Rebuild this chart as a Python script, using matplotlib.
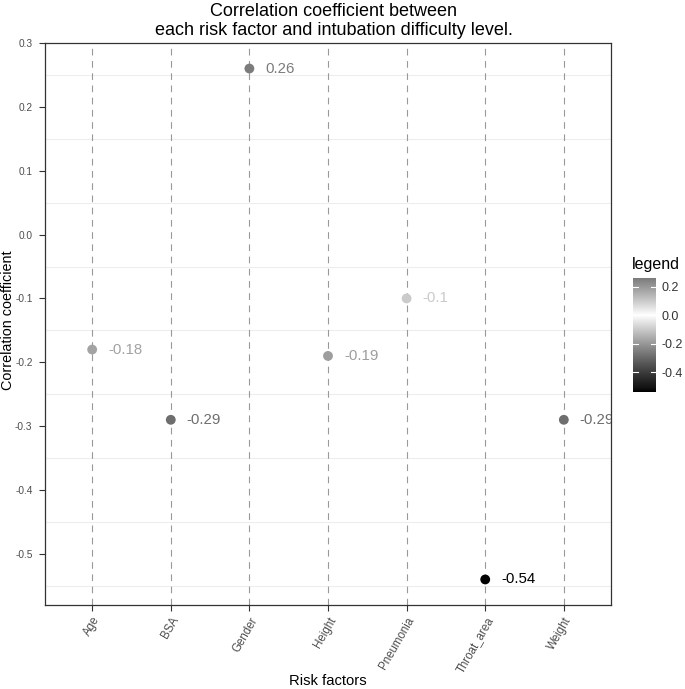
import matplotlib
matplotlib.use("Agg")
import matplotlib.pyplot as plt
import matplotlib.transforms as mtransforms
import numpy as np
from matplotlib.colors import ListedColormap, Normalize

plt.rcParams['font.family'] = ['Liberation Sans', 'DejaVu Sans']

# data
factors = ["Age", "BSA", "Gender", "Height", "Pneumonia", "Throat_area", "Weight"]
corr = [-0.18, -0.29, 0.26, -0.19, -0.10, -0.54, -0.29]
corr_labels = ["-0.18", "-0.29", "0.26", "-0.19", "-0.1", "-0.54", "-0.29"]
yticks = [0.3, 0.2, 0.1, 0.0, -0.1, -0.2, -0.3, -0.4, -0.5]
ytick_labels = ["0.3", "0.2", "0.1", "0.0", "-0.1", "-0.2", "-0.3", "-0.4", "-0.5"]
cbar_ticks = [0.2, 0.0, -0.2, -0.4]
cbar_labels = ["0.2", "0.0", "-0.2", "-0.4"]

W, H = 685, 689


def px_box(l, t, r, b):
    return [l / W, 1 - b / H, (r - l) / W, (b - t) / H]


def lab_gray(L):
    # L* -> sRGB grey level
    L = np.asarray(L, dtype=float)
    fy = (L + 16) / 116
    Y = np.where(L > 8, fy ** 3, L / 903.3)
    c = np.where(Y <= 0.0031308, 12.92 * Y, 1.055 * Y ** (1 / 2.4) - 0.055)
    return np.clip(c, 0, 1)


# gradient2: black - white(0) - black, interpolated in Lab
vmin, vmax = min(corr), max(corr)
span = max(abs(vmin), abs(vmax))


def grey_for(v):
    t = np.abs(np.asarray(v, dtype=float)) / span
    return lab_gray(100 * (1 - t))


vals = np.linspace(vmin, vmax, 256)
g = grey_for(vals)
cmap = ListedColormap(np.stack([g, g, g], axis=1))
norm = Normalize(vmin, vmax)

fig = plt.figure(figsize=(W / 100, H / 100), dpi=100)
ax = fig.add_axes(px_box(45, 43, 611, 605))

x = np.arange(len(factors))
ax.set_xlim(-0.6, len(factors) - 0.4)
ax.set_ylim(-0.58, 0.30)

for yy in np.arange(-0.55, 0.3, 0.1):
    ax.axhline(yy, color="#ededed", lw=0.8, zorder=0)
for xx in x:
    ax.axvline(xx, color="#999999", lw=0.8, ls=(0, (6, 5)), zorder=1)

ax.scatter(x, corr, c=corr, cmap=cmap, norm=norm, s=50, zorder=3, linewidths=0)
off = mtransforms.ScaledTranslation(16 / 100, 0, fig.dpi_scale_trans)
for xi, yi, lab in zip(x, corr, corr_labels):
    gv = float(grey_for(yi))
    ax.text(xi, yi, lab, transform=ax.transData + off, ha="left", va="center",
            fontsize=10.8, color=(gv, gv, gv), clip_on=True, zorder=4)

ax.set_xticks(x)
ax.set_xticklabels(factors, rotation=60, ha="right", va="top", rotation_mode="anchor")
ax.set_yticks(yticks)
ax.set_yticklabels(ytick_labels)
ax.tick_params(axis="both", length=4, width=0.8, color="#333333",
               labelcolor="#4d4d4d", labelsize=8.3)
ax.tick_params(axis="y", labelsize=7.3, pad=5)
ax.tick_params(axis="x", pad=3)
for s in ax.spines.values():
    s.set_color("#333333")
    s.set_linewidth(0.9)

fig.text(328 / W, 1 - 681 / H, "Risk factors", fontsize=10.6, ha="center", va="center")
fig.text(8 / W, 1 - 320 / H, "Correlation coefficient", fontsize=10.4,
         rotation=90, ha="center", va="center")
fig.text(334 / W, 1 - 21 / H,
         "Correlation coefficient between\neach risk factor and intubation difficulty level.",
         fontsize=13, ha="center", va="center", linespacing=1.15)

# colourbar legend
cax = fig.add_axes(px_box(633, 278, 656, 392))
cax.imshow(vals[:, None][::-1], cmap=cmap, norm=norm, aspect="auto",
           extent=[0, 1, vmin, vmax])
cax.set_xlim(0, 1)
cax.set_ylim(vmin, vmax)
for tv in cbar_ticks:
    cax.plot([0, 0.2], [tv, tv], color="white", lw=0.8)
    cax.plot([0.8, 1], [tv, tv], color="white", lw=0.8)
cax.set_xticks([])
cax.yaxis.tick_right()
cax.set_yticks(cbar_ticks)
cax.set_yticklabels(cbar_labels)
cax.tick_params(axis="y", length=0, labelsize=9, labelcolor="#333333", pad=4)
for s in cax.spines.values():
    s.set_visible(False)
fig.text(632 / W, 1 - 264 / H, "legend", fontsize=11.5, ha="left", va="center")

fig.savefig("out.png", dpi=100)
